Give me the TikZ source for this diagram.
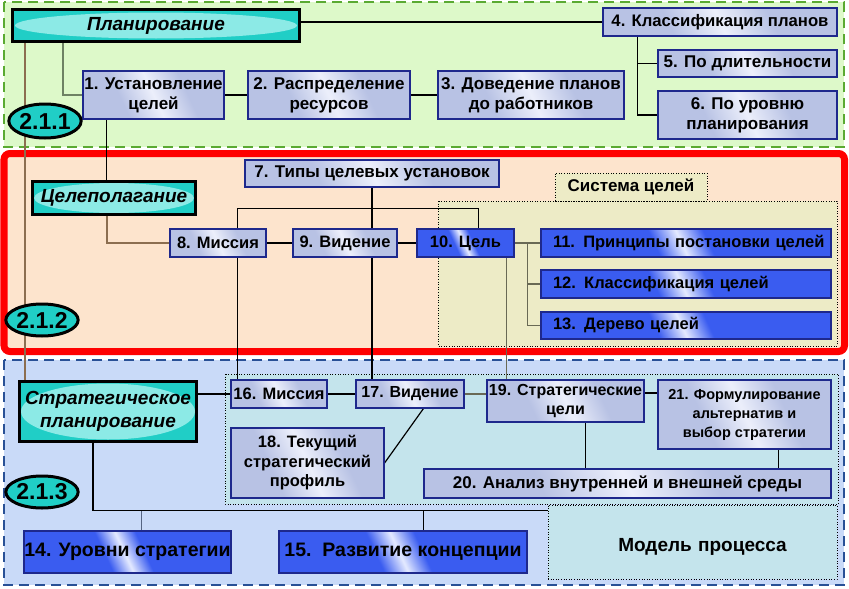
\documentclass[tikz,border=0pt]{standalone}
\usepackage{fontspec}
\setmainfont{Liberation Sans}
\usetikzlibrary{calc,shapes.geometric}
\definecolor{grfill}{RGB}{221,249,201}
\definecolor{grline}{RGB}{90,170,50}
\definecolor{pkfill}{RGB}{253,228,205}
\definecolor{rdline}{RGB}{255,0,0}
\definecolor{blfill}{RGB}{201,218,248}
\definecolor{blline}{RGB}{40,80,150}
\definecolor{yefill}{RGB}{237,235,198}
\definecolor{cyfill}{RGB}{196,228,236}
\definecolor{lbA}{RGB}{184,194,228}
\definecolor{lbB}{RGB}{236,239,251}
\definecolor{dbA}{RGB}{58,92,240}
\definecolor{dbB}{RGB}{228,234,255}
\definecolor{nvy}{RGB}{30,40,140}
\definecolor{cyA}{RGB}{32,206,198}
\definecolor{cyB}{RGB}{140,234,230}
\definecolor{lnbrown}{RGB}{140,110,80}
\definecolor{lngray}{RGB}{105,105,85}
\definecolor{lngreen}{RGB}{110,130,100}
\definecolor{lnblue}{RGB}{85,100,130}
\pgfdeclarehorizontalshading{lbshade}{100bp}{color(0bp)=(lbA);color(36bp)=(lbA);color(50bp)=(lbB);color(64bp)=(lbA);color(100bp)=(lbA)}
\pgfdeclarehorizontalshading{dbshade}{100bp}{color(0bp)=(dbA);color(43bp)=(dbA);color(49bp)=(dbB);color(55bp)=(dbA);color(100bp)=(dbA)}
\pgfdeclarelayer{bg}
\pgfdeclarelayer{ln}
\pgfsetlayers{bg,ln,main}
\tikzset{
  sz/.style 2 args={minimum width=#1pt, minimum height=#2pt},
  fs/.style 2 args={font=\bfseries\fontsize{#1}{#2}\selectfont},
  lbox/.style={draw=nvy, line width=1.1pt, shade, shading=lbshade, shading angle=25,
    align=center, inner sep=0pt, fs={16.5}{19.5}},
  dbox/.style={lbox, shading=dbshade},
  tbox/.style n args={2}{draw=black, line width=3pt, fill=cyA,
    path picture={\fill[cyB] (path picture bounding box.center) ellipse [x radius=#1pt, y radius=#2pt];},
    align=center, inner sep=0pt, font=\bfseries\itshape\fontsize{19}{23}\selectfont},
  lbl/.style={ellipse, draw=black, line width=3pt, fill=cyA, inner sep=0pt,
    font=\bfseries\fontsize{23}{23}\selectfont},
  conn/.style={line width=1.2pt, black},
  dotbox/.style={draw=black, line width=0.6pt, dotted},
  leftbox/.style={dbox, fs={16.5}{19.5}, text width=266pt, align=left},
}
\begin{document}
\begin{tikzpicture}[x=1pt,y=-1pt]
\useasboundingbox (0,0) rectangle (849,589);
% ---------- regions ----------
\begin{pgfonlayer}{bg}
\fill[grfill] (4,2) rectangle (844,147);
\draw[grline, line width=2.5pt, dash pattern=on 10pt off 6pt] (4,2) rectangle (844,147);
\filldraw[fill=pkfill, draw=rdline, line width=7pt, rounded corners=6pt] (4,153.5) rectangle (844.5,351.5);
\fill[blfill] (4,360) rectangle (844,585);
\draw[blline, line width=2.5pt, dash pattern=on 10pt off 6pt] (4,360) rectangle (844,585);
\fill[yefill] (438,201) rectangle (837,346);
\draw[dotbox] (438,201) rectangle (837,346);
\fill[cyfill] (225,374) rectangle (838,504);
\draw[dotbox] (225,374) rectangle (838,504);
\end{pgfonlayer}
% ---------- nodes ----------
\node[tbox={141}{13}, sz={287}{32}] (plan) at (156,25.5) {Планирование};
\node[lbox, fs={17}{20}, sz={141}{48}] (n1) at (153.5,95) {1. Установление\\целей};
\node[lbox, fs={17}{20}, sz={162}{48}] (n2) at (329,95) {2. Распределение\\ресурсов};
\node[lbox, fs={17}{20}, sz={186}{48}] (n3) at (531,95) {3. Доведение планов\\до работников};
\node[lbox, fs={16.7}{20}, sz={234}{28}] (n4) at (720,22) {4. Классификация планов};
\node[lbox, fs={17}{20}, sz={179}{27}] (n5) at (747.5,63.5) {5. По длительности};
\node[lbox, fs={17}{20}, sz={179}{48}] (n6) at (747.5,115) {6. По уровню\\планирования};
\node[lbl, sz={70}{34}] (e211) at (45,121) {2.1.1};

\node[lbox, fs={17}{20}, sz={254}{27}] (n7) at (372,173.5) {7. Типы целевых установок};
\node[tbox={80}{15}, sz={163}{33}] (goal) at (114,198) {Целеполагание};
\node[dotbox, fill=yefill, sz={152}{28}, fs={17}{20}] (sys) at (631,187) {Система целей};
\node[lbox, sz={96}{28}] (n8) at (218,243) {8. Миссия};
\node[lbox, sz={104}{28}] (n9) at (345,243) {9. Видение};
\node[dbox, sz={97}{28}] (n10) at (465.5,243) {10. Цель};
\node[leftbox, sz={290}{28}] (n11) at (686,243) {\mbox{11. Принципы постановки целей}};
\node[leftbox, sz={290}{28}] (n12) at (686,284) {\mbox{12. Классификация целей}};
\node[leftbox, sz={290}{27}] (n13) at (686,325.5) {\mbox{13. Дерево целей}};
\node[lbl, sz={64}{32}] (e212) at (42,320) {2.1.2};

\node[tbox={87}{28}, sz={177}{60}] (strat) at (108,411.5) {Стратегическое\\планирование};
\node[lbox, sz={96}{28}] (n16) at (279,394) {16. Миссия};
\node[lbox, fs={16}{19}, sz={108}{28}] (n17) at (410,394) {17. Видение};
\node[lbox, fs={16}{19}, sz={157}{42}] (n19) at (565.5,401) {19. Стратегические\\цели};
\node[lbox, sz={173}{69}, fs={14.5}{19}] (n21) at (744.5,414.5) {21. Формулирование\\альтернатив и\\выбор стратегии};
\node[lbox, sz={153}{70}] (n18) at (307.5,463) {18. Текущий\\стратегический\\профиль};
\node[lbox, fs={17}{20}, sz={407}{29}] (n20) at (627.5,483.5) {20. Анализ внутренней и внешней среды};
\node[dbox, sz={207}{42}, fs={19.5}{22}] (n14) at (127.5,552) {14. Уровни стратегии};
\node[dbox, sz={248}{42}, fs={19.5}{22}] (n15) at (403,552) {15.\ \ Развитие концепции};
\node[dotbox, fill=cyfill, sz={289}{74}, fs={19}{22}, text width=269pt, align=center] (model) at (692.5,542) {\hspace*{20pt}\smash{\raisebox{-9pt}{Модель процесса}}};
\node[lbl, sz={64}{32}] (e213) at (42,492) {2.1.3};
% ---------- connectors ----------
\begin{pgfonlayer}{ln}
\draw[conn] (plan.east |- n4.west) -- (n4.west);
\draw[conn, lnbrown] ([xshift=14pt]plan.south west) -- ([xshift=7pt]strat.north west);
\draw[conn, lngreen] ([xshift=52pt]plan.south west) |- (n1.west);
\draw[conn] (n1.east) -- (n2.west);
\draw[conn] (n2.east) -- (n3.west);
\draw[conn] ([xshift=35pt]n4.south west) |- (n5.west);
\draw[conn] ([xshift=35pt]n4.south west) |- (n6.west);
\draw[conn] ([xshift=24pt]n1.south west) coordinate (c1) -- (c1 |- goal.north);
\draw[conn, lnbrown] ([xshift=76pt]goal.south west) |- (n8.west);
\draw[conn] (n8.east) -- (n9.west);
\draw[conn] (n9.east) -- (n10.west);
\draw[conn] (n7.south) -- (n7.south |- n9.north);
\draw[conn] ([xshift=68pt]n8.north west) -- ++(0,-20) -| ([xshift=62pt]n10.north west);
\draw[conn] ([xshift=68pt]n8.south west) coordinate (c8) -- (c8 |- n16.north);
\draw[conn] (n7.south |- n9.south) -- (n7.south |- n17.north);
\draw[conn, lngray] ([xshift=90pt]n10.south west) coordinate (c10) -- (c10 |- n19.north);
\draw[conn, lngray] (n10.east) -- (n11.west);
\draw[conn, lngray] ([xshift=13pt]n10.east) |- (n12.west);
\draw[conn, lngray] ([xshift=13pt]n10.east) |- (n13.west);
\draw[conn] (strat.east |- n16.west) -- (n16.west);
\draw[conn] (n16.east) -- (n17.west);
\draw[conn, lngray] (n17.east) -- (n17.east -| n19.west);
\draw[conn] ([yshift=8pt]n19.east) coordinate (c19) -- (c19 -| n21.west);
\draw[conn] ([xshift=68pt]n17.south west) -- (n18.east);
\draw[conn] ([xshift=99pt]n19.south west) coordinate (c19b) -- (c19b |- n20.north);
\draw[conn] ([xshift=121pt]n21.south west) coordinate (c21) -- (c21 |- n20.north);
\coordinate (bl) at ([yshift=-6pt]model.north west);
\draw[conn] ([xshift=-15pt]strat.south) |- (bl);
\draw[conn, lnblue] ([xshift=118pt]n14.north west) coordinate (c14) -- (c14 |- bl);
\draw[conn] ([xshift=145pt]n15.north west) coordinate (c15) -- (c15 |- bl);
\end{pgfonlayer}
\end{tikzpicture}
\end{document}
